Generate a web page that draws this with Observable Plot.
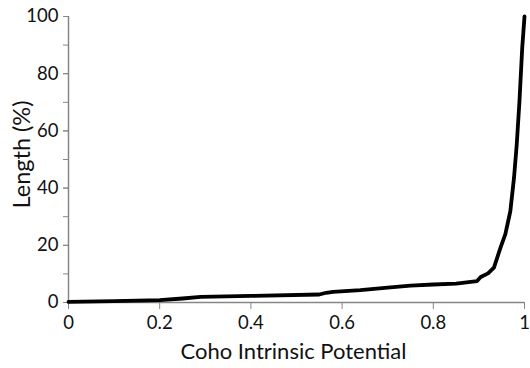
<!DOCTYPE html>
<html>
<head>
<meta charset="utf-8">
<script src="https://cdn.jsdelivr.net/npm/d3@7"></script>
<script src="https://cdn.jsdelivr.net/npm/@observablehq/plot@0.6"></script>
<style>
  html, body { margin: 0; padding: 0; background: #fff; }
  #chart svg { display: block; }
</style>
</head>
<body>
<div id="chart"></div>
<script>
const potential = [0, 0.1, 0.2, 0.25, 0.29, 0.4, 0.55, 0.565, 0.58, 0.64, 0.7, 0.75, 0.8, 0.85, 0.896, 0.904, 0.92, 0.933, 0.947, 0.958, 0.969, 0.977, 0.983, 0.989, 0.995, 1.0];
const lengthPct = [0.2, 0.5, 0.8, 1.4, 2.0, 2.3, 2.8, 3.4, 3.7, 4.3, 5.2, 5.9, 6.3, 6.6, 7.5, 8.9, 10.2, 12.2, 19.0, 23.9, 32, 43.6, 55.3, 70.5, 89, 100];
const xTicks = [0, 0.2, 0.4, 0.6, 0.8, 1];
const xTickLabels = ["0", "0.2", "0.4", "0.6", "0.8", "1"];
const yTicks = [0, 20, 40, 60, 80, 100];
const yMinorTicks = [0, 10, 20, 30, 40, 50, 60, 70, 80, 90, 100];
const xLabel = "Coho Intrinsic Potential";
const yLabel = "Length (%)";

const data = potential.map((x, i) => ({x, y: lengthPct[i]}));
const axisColor = "#868686";

const chart = Plot.plot({
  width: 530,
  height: 368,
  marginLeft: 68,
  marginRight: 6,
  marginTop: 16,
  marginBottom: 66,
  style: {fontFamily: "Lato, 'Open Sans', sans-serif", fontSize: "18px", color: "#111", background: "#fff"},
  x: {domain: [0, 1]},
  y: {domain: [0, 100]},
  marks: [
    Plot.ruleX([0], {stroke: axisColor, strokeWidth: 1.5}),
    Plot.ruleY([0], {stroke: axisColor, strokeWidth: 1.5}),
    Plot.axisY({ticks: yMinorTicks, tickFormat: () => "", tickSize: 5, stroke: axisColor, label: null}),
    Plot.axisY({ticks: yTicks, tickSize: 5, tickPadding: 5, stroke: axisColor, fill: "#111", fontSize: 18.5, label: null}),
    Plot.axisX({ticks: xTicks, tickFormat: (d, i) => xTickLabels[i], tickSize: 7, tickPadding: 6, stroke: axisColor, fill: "#111", fontSize: 18.5, label: null}),
    Plot.text([xLabel], {frameAnchor: "bottom", dx: -3, dy: 56, fontSize: 22, fill: "#111"}),
    Plot.text([yLabel], {frameAnchor: "left", textAnchor: "middle", dx: -46, dy: -5, rotate: -90, fontSize: 23.5, fill: "#111"}),
    Plot.line(data, {x: "x", y: "y", stroke: "#000", strokeWidth: 3.8, curve: "linear"})
  ]
});
document.getElementById("chart").append(chart);
</script>
</body>
</html>
